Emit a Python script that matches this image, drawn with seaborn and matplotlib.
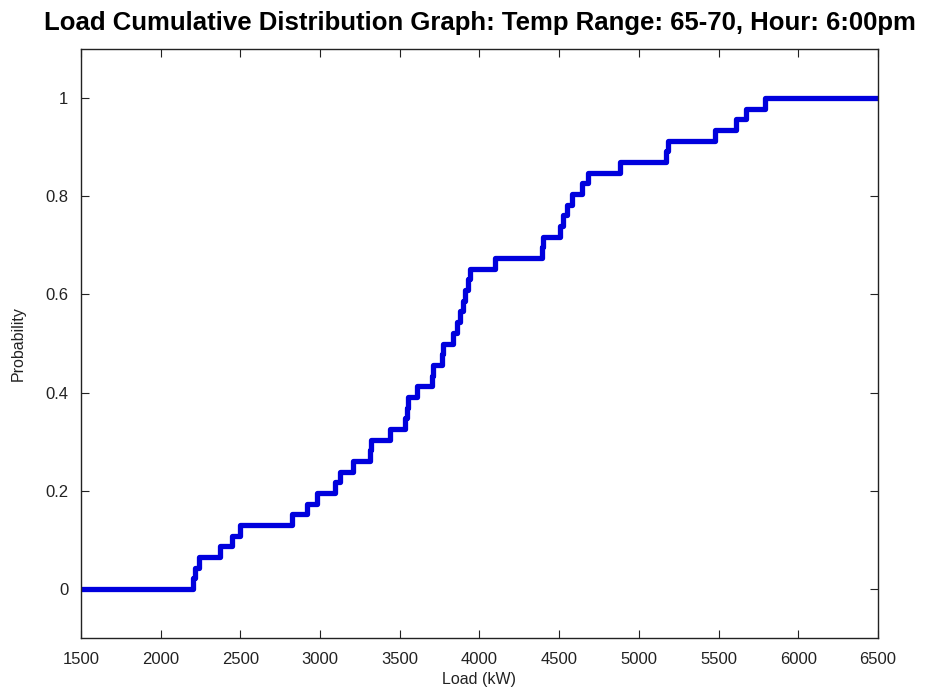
import numpy as np
import pandas as pd
import matplotlib
matplotlib.use("Agg")
import matplotlib.pyplot as plt
import matplotlib.ticker as mticker
import seaborn as sns

# Observed load samples (kW), read from the empirical CDF steps
loads = [2200, 2215, 2240, 2372, 2447, 2497, 2824, 2918, 2980, 3093,
         3125, 3206, 3310, 3320, 3439, 3535, 3543, 3551, 3608, 3700,
         3708, 3765, 3771, 3834, 3860, 3880, 3895, 3910, 3925, 3940,
         4097, 4392, 4400, 4505, 4525, 4549, 4580, 4640, 4681, 4881,
         5170, 5180, 5477, 5610, 5675, 5790]
x_limits = [1500, 6500]
y_limits = [-0.1, 1.1]
x_ticks = [1500, 2000, 2500, 3000, 3500, 4000, 4500, 5000, 5500, 6000, 6500]
y_ticks = [0, 0.2, 0.4, 0.6, 0.8, 1.0]
title = "Load Cumulative Distribution Graph: Temp Range: 65-70, Hour: 6:00pm"

sns.set_theme(style="ticks")
plt.rcParams["font.family"] = ["Liberation Sans", "DejaVu Sans"]

# Build empirical CDF as a step series
s = np.sort(np.array(loads, dtype=float))
n = len(s)
xs = np.r_[x_limits[0], s, x_limits[1]]
ys = np.r_[0.0, np.arange(1, n + 1) / n, 1.0]
df = pd.DataFrame({"Load": xs, "Probability": ys})

fig = plt.figure(figsize=(9.29, 7.0), dpi=100, facecolor="white")
ax = fig.add_axes([81 / 929, 1 - 638 / 700, (878 - 81) / 929, (638 - 49) / 700])
ax.set_facecolor("white")

sns.lineplot(data=df, x="Load", y="Probability", ax=ax, estimator=None,
             sort=False, drawstyle="steps-post", color="#0000dd",
             linewidth=3.8, solid_joinstyle="round", solid_capstyle="round")

ax.set_xlim(*x_limits)
ax.set_ylim(*y_limits)
ax.set_xticks(x_ticks)
ax.set_yticks(y_ticks)
ax.yaxis.set_major_formatter(mticker.FormatStrFormatter("%g"))
ax.tick_params(direction="in", length=6, width=0.8, top=True, right=True,
               labelsize=12, colors="#222222")
ax.tick_params(axis="x", pad=10)
ax.tick_params(axis="y", pad=9)
for sp in ax.spines.values():
    sp.set_visible(True)
    sp.set_linewidth(1.0)
    sp.set_color("#222222")

ax.set_xlabel("Load (kW)", fontsize=11.5, color="#222222", labelpad=4)
ax.set_ylabel("Probability", fontsize=11.5, color="#222222", labelpad=14)
ax.set_title(title, fontsize=18.5, fontweight="bold", color="black", pad=14)

fig.savefig("out.png", dpi=100, facecolor="white")
